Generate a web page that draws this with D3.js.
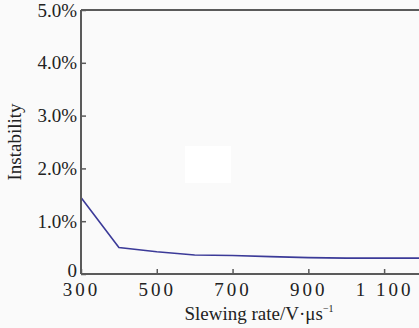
<!DOCTYPE html>
<html>
<head>
<meta charset="utf-8">
<script src="https://cdn.jsdelivr.net/npm/d3@7"></script>
<style>
  body { margin: 0; background: #fafafa; }
  svg { display: block; font-family: "Liberation Serif", "DejaVu Serif", serif; }
</style>
</head>
<body>
<svg width="419" height="328"></svg>
<script>
let lineColor = "#3b3a98";
let axisColor = "#5a5a5a";

let rates = [300, 400, 500, 600, 700, 800, 900, 1000, 1100, 1200];
let instability = [1.45, 0.50, 0.42, 0.36, 0.35, 0.33, 0.31, 0.30, 0.30, 0.30];
let xTicks = [300, 500, 700, 900, 1100];
let xTickLabels = ["300", "500", "700", "900", "1 100"];
let yTicks = [0, 1, 2, 3, 4, 5];
let yTickLabels = ["0", "1.0%", "2.0%", "3.0%", "4.0%", "5.0%"];

let xScale = d3.scaleLinear()
    .domain([300, 1200])
    .range([81, 422]);

let yScale = d3.scaleLinear()
    .domain([0, 5])
    .range([274, 10]);

const svg = d3.select("svg");

svg.append("rect")
    .attr("x", 0).attr("y", 0)
    .attr("width", 419).attr("height", 328)
    .attr("fill", "#fafafa");

// stray white patch in the original
svg.append("rect")
    .attr("x", 185).attr("y", 146)
    .attr("width", 46).attr("height", 37)
    .attr("fill", "#ffffff");

const drawAxes = () => {
    let xAxis = d3.axisBottom(xScale)
        .tickValues(xTicks)
        .tickSize(-5)
        .tickFormat((d, i) => xTickLabels[i]);
    let yAxis = d3.axisLeft(yScale)
        .tickValues(yTicks)
        .tickSize(-5)
        .tickFormat((d, i) => yTickLabels[i]);

    let gx = svg.append("g")
        .attr("transform", "translate(0, 274)")
        .call(xAxis);
    gx.select(".domain").remove();
    gx.append("line")
        .attr("x1", 81).attr("x2", 419).attr("y1", 0).attr("y2", 0)
        .attr("stroke", axisColor).attr("stroke-width", 2);
    gx.selectAll(".tick line").attr("stroke", axisColor).attr("stroke-width", 1.5);
    gx.selectAll(".tick text")
        .attr("y", 9)
        .attr("dy", "0.71em")
        .attr("fill", "#222")
        .style("font-size", "19px")
        .style("letter-spacing", "3px")
        .attr("font-family", "Liberation Serif");

    let gy = svg.append("g")
        .attr("transform", "translate(81, 0)")
        .call(yAxis);
    gy.select(".domain").remove();
    gy.append("line")
        .attr("x1", 0).attr("x2", 0).attr("y1", 10).attr("y2", 274)
        .attr("stroke", axisColor).attr("stroke-width", 2);
    gy.selectAll(".tick line").attr("stroke", axisColor).attr("stroke-width", 1.5);
    gy.selectAll(".tick text")
        .attr("x", -4)
        .attr("fill", "#222")
        .style("font-size", "19px")
        .attr("font-family", "Liberation Serif");
    // the zero label sits a little higher so it clears "300"
    gy.selectAll(".tick text").filter((d) => d === 0)
        .attr("y", -4);

    // top border
    svg.append("line")
        .attr("x1", 81).attr("x2", 419).attr("y1", 10).attr("y2", 10)
        .attr("stroke", axisColor).attr("stroke-width", 2);

    svg.append("text")
        .attr("transform", "translate(21, 142) rotate(-90)")
        .attr("text-anchor", "middle")
        .attr("fill", "#222")
        .style("font-size", "19px")
        .text("Instability");

    let xl = svg.append("text")
        .attr("x", 259)
        .attr("y", 320)
        .attr("text-anchor", "middle")
        .attr("fill", "#222")
        .style("font-size", "19px");
    xl.append("tspan").text("Slewing rate/V·μs");
    xl.append("tspan")
        .attr("dy", -8)
        .style("font-size", "10px")
        .text("−1");
};

const drawLine = () => {
    let line = d3.line()
        .x((d, i) => xScale(rates[i]))
        .y(d => yScale(d));
    svg.append("path")
        .datum(instability)
        .attr("d", line)
        .attr("fill", "none")
        .attr("stroke", lineColor)
        .attr("stroke-width", 1.6);
};

drawLine();
drawAxes();
</script>
</body>
</html>
